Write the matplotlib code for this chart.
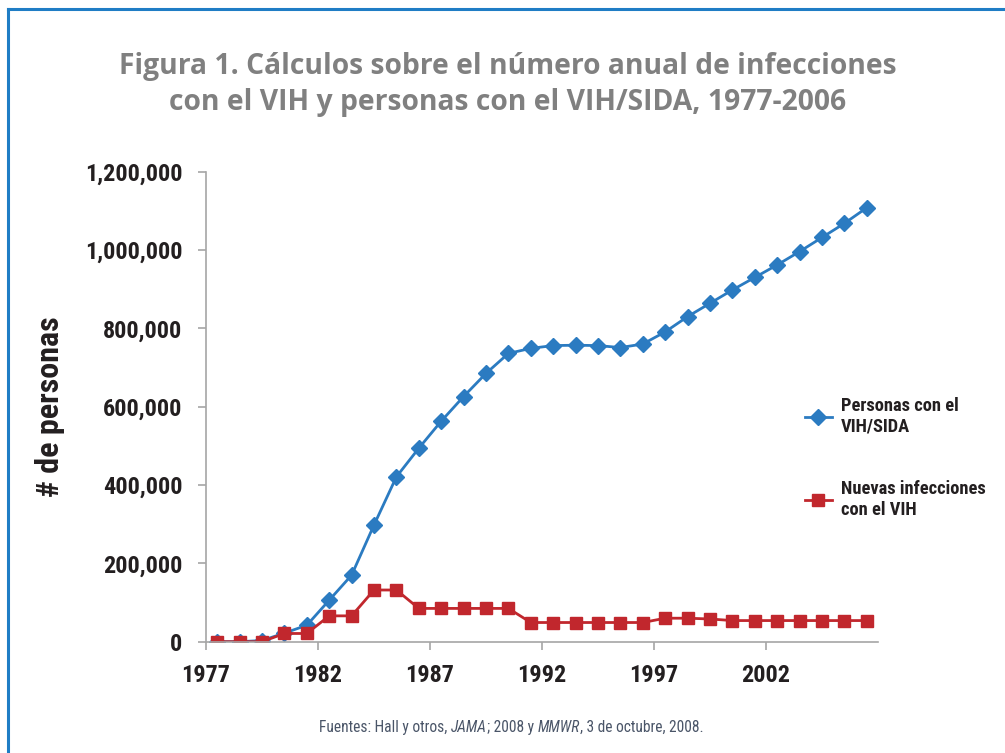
import matplotlib
matplotlib.use("Agg")
import matplotlib.pyplot as plt
from matplotlib.ticker import FuncFormatter
from matplotlib.lines import Line2D

years = list(range(1977, 2007))
personas = [0, 0, 3000, 22000, 42000, 106000, 170000, 298000, 421000, 494000,
            563000, 626000, 685000, 736000, 749000, 756000, 757000, 756000, 751000, 760000,
            791000, 830000, 864000, 898000, 930000, 962000, 996000, 1032000, 1068000, 1108000]
nuevas = [0, 0, 0, 21000, 21000, 66000, 66000, 132000, 132000, 85000,
          85000, 85000, 85000, 85000, 49000, 49000, 49000, 49000, 49000, 49000,
          60000, 60000, 58000, 54000, 54000, 54000, 54000, 54000, 54000, 54000]
tick_years = [1977, 1982, 1987, 1992, 1997, 2002]
y_ticks = [0, 200000, 400000, 600000, 800000, 1000000, 1200000]

# narrowest installed family wins (condensed ones first if they exist)
NARROW = ['Roboto Condensed', 'Liberation Sans Narrow', 'Roboto', 'DejaVu Sans']
BLUE = '#2b7bc1'
RED = '#c1272d'
TXT = '#231f20'


def main():
    fig = plt.figure(figsize=(10.05, 7.53), dpi=100)
    ax = fig.add_axes([0.205, 0.1478, 0.6686, 0.6242])

    # category axis: points in the middle of each slot, ticks on slot edges
    xs = [y - years[0] + 0.5 for y in years]
    l1, = ax.plot(xs, personas, color=BLUE, lw=2.0, marker='D', ms=8.5,
                  label='Personas con el\nVIH/SIDA')
    l2, = ax.plot(xs, nuevas, color=RED, lw=2.0, marker='s', ms=9,
                  label='Nuevas infecciones\ncon el VIH')

    ax.set_xlim(0, len(years))
    ax.set_ylim(0, 1200000)
    ax.set_xticks([t - years[0] for t in tick_years])
    ax.set_xticklabels([str(t) for t in tick_years])
    ax.set_yticks(y_ticks)
    ax.yaxis.set_major_formatter(FuncFormatter(lambda v, p: f"{int(v):,}"))

    for s in ['top', 'right']:
        ax.spines[s].set_visible(False)
    for s in ['left', 'bottom']:
        ax.spines[s].set_color('#a6a6a6')
        ax.spines[s].set_linewidth(1.2)
    ax.tick_params(axis='both', length=6, width=1.2, color='#a6a6a6')
    ax.tick_params(axis='y', pad=11)
    ax.tick_params(axis='x', pad=10)
    for lab in ax.get_xticklabels() + ax.get_yticklabels():
        lab.set_family(NARROW)
        lab.set_fontsize(17.5)
        lab.set_fontweight('bold')
        lab.set_color(TXT)

    ax.set_ylabel('# de personas', family=NARROW, fontsize=23, fontweight='bold',
                  color=TXT)
    ax.yaxis.set_label_coords(-0.21, 0.5)

    leg = fig.legend(handles=[l1, l2], loc='upper left', bbox_to_anchor=(0.784, 0.495),
                     frameon=False, handlelength=1.5, handletextpad=0.45,
                     labelspacing=2.4, prop={'family': NARROW, 'size': 13.3, 'weight': 'bold'})
    for t in leg.get_texts():
        t.set_color(TXT)

    fig.text(0.505, 0.888, 'Figura 1. Cálculos sobre el número anual de infecciones\n'
             'con el VIH y personas con el VIH/SIDA, 1977-2006',
             ha='center', va='center', fontsize=20.3, fontweight='bold', color='#808080',
             family=['Open Sans', 'DejaVu Sans'], linespacing=1.3)

    # source note with italic pieces
    pieces = [('Fuentes: Hall y otros, ', 'normal'), ('JAMA', 'italic'),
              ('; 2008 y ', 'normal'), ('MMWR', 'italic'),
              (', 3 de octubre, 2008.', 'normal')]
    fig.canvas.draw()
    r = fig.canvas.get_renderer()
    texts = []
    for s, st in pieces:
        t = fig.text(0, 0.034, s, fontsize=11.2, style=st, color='#4a5568',
                     family=NARROW, va='center', ha='left')
        texts.append(t)
    widths = [t.get_window_extent(r).width / fig.bbox.width for t in texts]
    x = 0.509 - sum(widths) / 2
    for t, w in zip(texts, widths):
        t.set_x(x)
        x += w

    # blue frame, top and left
    fig.add_artist(Line2D([0.008, 1.0], [0.988, 0.988], color='#1f7dc5', lw=2.2))
    fig.add_artist(Line2D([0.008, 0.008], [0.0, 0.988], color='#1f7dc5', lw=2.2))

    fig.savefig('out.png', dpi=100)


if __name__ == '__main__':
    main()
